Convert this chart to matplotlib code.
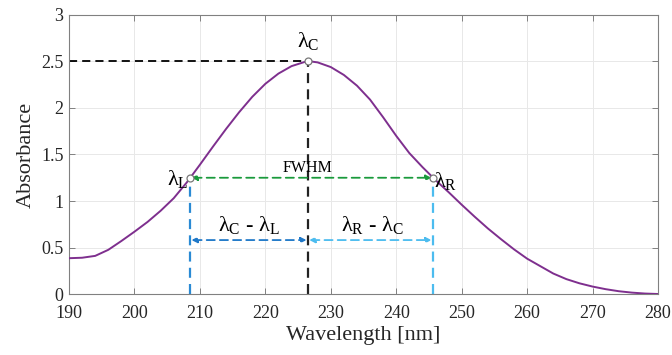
import matplotlib
matplotlib.use('Agg')
from matplotlib import pyplot as plt

# absorbance spectrum
wavelength = [190, 192, 194, 196, 198, 200, 202, 204, 206, 208, 210, 212, 214, 216, 218,
              220, 222, 224, 226, 227, 228, 230, 232, 234, 236, 238, 240, 242, 244, 246,
              248, 250, 252, 254, 256, 258, 260, 262, 264, 266, 268, 270, 272, 274, 276,
              278, 280]
absorbance = [0.385, 0.39, 0.41, 0.475, 0.57, 0.67, 0.775, 0.895, 1.03, 1.20, 1.39, 1.585,
              1.775, 1.955, 2.12, 2.26, 2.37, 2.45, 2.495, 2.50, 2.49, 2.44, 2.355, 2.24,
              2.09, 1.90, 1.70, 1.515, 1.365, 1.225, 1.095, 0.96, 0.83, 0.705, 0.59, 0.48,
              0.38, 0.30, 0.22, 0.16, 0.115, 0.08, 0.052, 0.03, 0.015, 0.005, 0.0]

lam_L, lam_C, lam_R = 208.5, 226.5, 245.6
peak = 2.5
half = 1.25
arrow_y = 0.58

plt.rcParams['font.family'] = ['Liberation Serif', 'DejaVu Serif']
plt.rcParams['mathtext.fontset'] = 'custom'
plt.rcParams['mathtext.rm'] = 'Liberation Serif'
plt.rcParams['mathtext.it'] = 'Liberation Serif:italic'

fig = plt.figure(figsize=(6.72, 3.55), dpi=100)
ax = fig.add_axes([0.1027, 0.1718, 0.8765, 0.786])

purple = '#7e2f8e'
green = '#1a9a3c'
blue = '#1f78c8'
lblue = '#4cbcef'
dash = (0, (4.5, 2.8))

# guide lines
ax.plot([190, lam_C], [peak, peak], color='black', ls=dash, lw=1.3, zorder=2)
ax.plot([lam_C, lam_C], [0, peak], color='#222222', ls=dash, lw=1.6, zorder=2)
ax.plot([lam_L, lam_L], [0, half], color='#2a8ad4', ls=dash, lw=1.6, zorder=2)
ax.plot([lam_R, lam_R], [0, half], color=lblue, ls=dash, lw=1.6, zorder=2)

def darrow(x0, x1, y, c):
    ax.annotate('', xy=(x1, y), xytext=(x0, y),
                arrowprops=dict(arrowstyle='<|-|>', color=c, lw=1.3, ls=dash,
                                shrinkA=1, shrinkB=1, mutation_scale=8))

darrow(lam_L, lam_R, half, green)
darrow(lam_L, lam_C, arrow_y, blue)
darrow(lam_C, lam_R, arrow_y, lblue)

ax.plot(wavelength, absorbance, color=purple, lw=1.4, zorder=3)
ax.plot([lam_L, lam_C, lam_R], [half, peak, half], ls='none', marker='o', ms=5,
        mfc='white', mec='#777777', mew=0.9, zorder=4)

ax.text(lam_C, 2.6, r'$\mathrm{\lambda_C}$', ha='center', va='bottom', fontsize=16)
ax.text(lam_L - 0.3, 1.24, r'$\mathrm{\lambda_L}$', ha='right', va='center', fontsize=16)
ax.text(lam_R + 0.2, 1.22, r'$\mathrm{\lambda_R}$', ha='left', va='center', fontsize=16)
ax.text(lam_C, 1.27, 'FWHM', ha='center', va='bottom', fontsize=11.5)
ax.text((lam_L + lam_C) / 2, 0.62, r'$\mathrm{\lambda_C}$ - $\mathrm{\lambda_L}$',
        ha='center', va='bottom', fontsize=16)
ax.text((lam_C + lam_R) / 2 + 0.3, 0.62, r'$\mathrm{\lambda_R}$ - $\mathrm{\lambda_C}$',
        ha='center', va='bottom', fontsize=16)

ax.set_xlim(190, 280)
ax.set_ylim(0, 3)
ax.set_xticks(range(190, 281, 10))
ax.set_yticks([0, 0.5, 1, 1.5, 2, 2.5, 3])
ax.set_yticklabels(['0', '0.5', '1', '1.5', '2', '2.5', '3'])
ax.grid(True, color='#e8e8e8', lw=0.7)
ax.set_axisbelow(True)
ax.tick_params(direction='in', top=True, right=True, length=4, width=0.7,
               colors='#808080', labelcolor='#262626', labelsize=13)
ax.tick_params(axis='x', pad=8)
ax.tick_params(axis='y', pad=4)
for s in ax.spines.values():
    s.set_color('#808080')
    s.set_linewidth(0.8)
ax.set_xlabel('Wavelength [nm]', fontsize=16, color='#262626', labelpad=3)
ax.set_ylabel('Absorbance', fontsize=16, color='#262626', labelpad=4)

plt.savefig('out.png', dpi=100)
